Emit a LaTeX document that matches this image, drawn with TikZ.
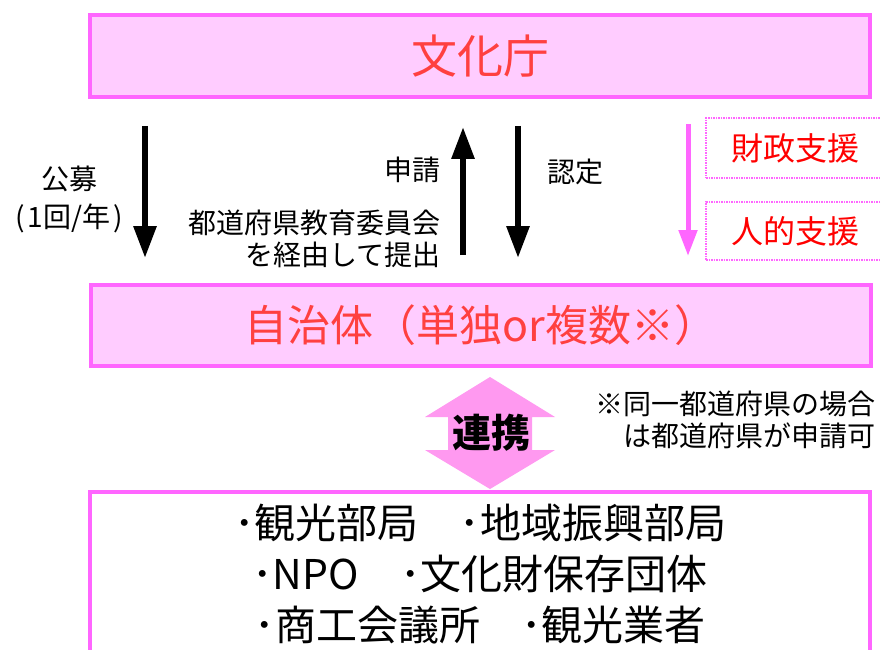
\documentclass[tikz,border=0pt]{standalone}
\usepackage{fontspec}
\setmainfont{Noto Sans CJK JP}
\usepackage{tikz}
\usetikzlibrary{arrows.meta,positioning}
\definecolor{boxpink}{RGB}{255,102,255}
\definecolor{boxfill}{RGB}{255,204,255}
\definecolor{titlered}{RGB}{255,64,64}
\definecolor{arrowpink}{RGB}{255,153,240}
\tikzstyle{mainbox}   =[draw=boxpink, line width=4pt,
                        minimum width=780pt, inner sep=0pt]
\tikzstyle{supportbox}=[draw=boxpink, densely dotted, line width=1.5pt,
                        minimum width=178pt, text=red,
                        font=\fontsize{32}{36}\selectfont]
\tikzstyle{flow}      =[line width=6pt, -{Triangle[width=22pt,length=32pt]}]
\tikzstyle{aid}       =[boxpink, line width=5pt,
                        -{Triangle[width=18pt,length=26pt]}]
\tikzstyle{textlabel} =[inner sep=0pt, font=\fontsize{28}{32}\selectfont]

\begin{document}
\begin{tikzpicture}[x=1pt, y=-1pt]
            \useasboundingbox (0,0) rectangle (881,650);
            \clip (0,0) rectangle (881,650);
            \node[mainbox, fill=boxfill, minimum height=82pt, text=titlered,
                  font=\fontsize{46}{50}\selectfont] (bunka) at (480,56) {文化庁};
            \node[mainbox, fill=boxfill, minimum height=81pt, text=titlered,
                  font=\fontsize{43}{48}\selectfont] (jichi) at (481,325.5) {自治体（単独or複数※）};
            \node[mainbox, fill=white, minimum height=208pt, anchor=north] (partners) at (480,490) {};
            \node[align=center, font=\fontsize{41}{51}\selectfont] (partnerlist) at (480,574)
                {･観光部局　･地域振興部局\\･NPO　･文化財保存団体\\･商工会議所　･観光業者};
            \coordinate (kx) at (145,0);
            \coordinate (sx) at (463,0);
            \coordinate (nx) at (518,0);
            \coordinate (ax) at (688,0);
            \draw[flow, shorten <=27pt, shorten >=25pt] (bunka.south -| kx) to (jichi.north -| kx);
            \draw[flow, shorten <=28pt, shorten >=28pt] (jichi.north -| sx) to (bunka.south -| sx);
            \draw[flow, shorten <=27pt, shorten >=25pt] (bunka.south -| nx) to (jichi.north -| nx);
            \draw[aid, shorten <=25pt, shorten >=27pt] (bunka.south -| ax) to (jichi.north -| ax);
            \node[textlabel, align=center, font=\fontsize{28}{38}\selectfont] (kobo) at (69,199)
                {公募\\(\kern3pt 1回/年\kern3pt)};
            \node[textlabel, anchor=east] (shinsei) at (441,170) {申請};
            \node[textlabel, anchor=east, align=right] (keiyu) at (441,239) {都道府県教育委員会\\を経由して提出};
            \node[textlabel, anchor=west] (nintei) at (547,172) {認定};
            \node[supportbox, minimum height=60pt] (zaisei) at (795,148) {財政支援};
            \node[supportbox, minimum height=58pt] (jinteki) at (795,231) {人的支援};
            % double arrow between jichi and partners
            \fill[arrowpink] (490,377) -- (555,417) -- (532,417) -- (532,450) -- (555,450)
                -- (490,489) -- (425,450) -- (448,450) -- (448,417) -- (425,417) -- cycle;
            \node[font=\fontsize{39}{42}\selectfont\bfseries] (renkei) at (491,433) {連携};
            \node[textlabel, anchor=east, align=right] (note) at (876,420)
                {※同一都道府県の場合\\は都道府県が申請可};

        \end{tikzpicture}
\end{document}
